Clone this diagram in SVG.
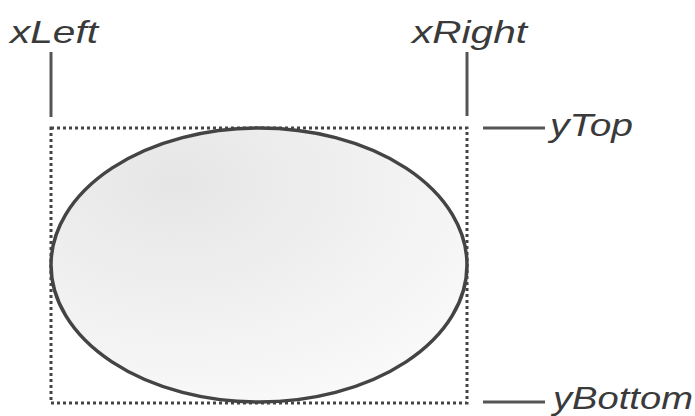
<svg xmlns="http://www.w3.org/2000/svg" width="695" height="416" viewBox="0 0 695 416">
<style>
.lbl{font-family:"Liberation Sans",Arial,sans-serif;font-style:italic;font-size:32px;fill:#3a3a3a}
.tick{stroke:#555;stroke-width:3;fill:none}
.box{stroke:#444;stroke-width:3;stroke-dasharray:3 3;fill:none}
</style>
<defs>
<radialGradient id="g" cx="0.3" cy="0.2" r="0.9">
<stop offset="0" stop-color="#e6e6e6"/>
<stop offset="1" stop-color="#fafafa"/>
</radialGradient>
</defs>
<rect width="695" height="416" fill="#fff"/>
<g id="bbox">
<rect class="box" x="51" y="128" width="416" height="275"/>
</g>
<g id="ellipse">
<ellipse cx="259" cy="265" rx="208" ry="137" fill="url(#g)" stroke="#444" stroke-width="3.5"/>
</g>
<g id="connectors">
<line class="tick" x1="51" y1="52" x2="51" y2="117"/>
<line class="tick" x1="467" y1="52" x2="467" y2="116"/>
<line class="tick" x1="483" y1="128" x2="545" y2="128"/>
<line class="tick" x1="483" y1="402" x2="545" y2="402"/>
</g>
<g id="labels">
<text class="lbl" x="10" y="43" textLength="88" lengthAdjust="spacingAndGlyphs">xLeft</text>
<text class="lbl" x="412" y="43" textLength="115" lengthAdjust="spacingAndGlyphs">xRight</text>
<text class="lbl" x="550" y="136" textLength="83" lengthAdjust="spacingAndGlyphs">yTop</text>
<text class="lbl" x="553" y="409" font-size="30" textLength="140" lengthAdjust="spacingAndGlyphs">yBottom</text>
</g>
</svg>
